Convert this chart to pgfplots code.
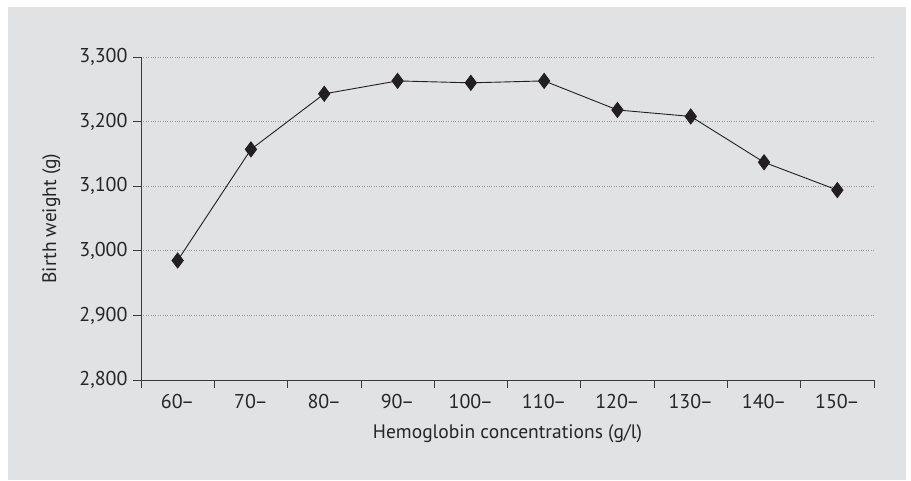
\documentclass[border=0pt]{standalone}
\usepackage{pgfplots}
\pgfplotsset{compat=1.18}
\usepackage{fontspec}
\setmainfont{PT Sans}
\definecolor{bg}{HTML}{E1E2E4}
\definecolor{ax}{HTML}{3A3A3A}
\definecolor{ln}{HTML}{231F20}
\newcommand{\dd}{\kern-1.5pt--}
\begin{document}
\begin{tikzpicture}[x=1pt,y=1pt]
\fill[white] (0,0) rectangle (911,480);
\fill[bg] (8,0) rectangle (906,473);
\begin{axis}[
  at={(141pt,100pt)}, anchor=south west,
  scale only axis, width=733pt, height=323pt,
  xmin=0.5, xmax=10.5, ymin=2800, ymax=3300,
  axis x line*=bottom, axis y line*=left,
  axis line style={ax, line width=0.9pt, -},
  xtick={1,...,10},
  xticklabels={60\dd,70\dd,80\dd,90\dd,100\dd,110\dd,120\dd,130\dd,140\dd,150\dd},
  major x tick style={draw=none},
  minor xtick={0.5,1.5,...,10.5},
  minor x tick style={ax, line width=0.8pt},
  minor tick length=8pt,
  ytick={2800,2900,...,3300},
  major y tick style={ax, line width=0.8pt},
  major tick length=8pt,
  tick align=outside,
  ymajorgrids,
  major grid style={gray!80, dotted, line width=0.8pt},
  /pgf/number format/1000 sep={,},
  /pgf/number format/assume math mode=true,
  tick label style={font=\fontsize{20}{24}\selectfont, text=black!85},
  label style={font=\fontsize{19.5}{23}\selectfont, text=black!85},
  xticklabel style={yshift=-3pt},
  yticklabel style={xshift=-2pt},
  xlabel={Hemoglobin concentrations (g/l)},
  ylabel={Birth weight (g)},
  xlabel style={yshift=-9pt},
  ylabel style={yshift=12pt},
  clip=false,
]
\addplot[ln, line width=0.9pt, mark=diamond*, mark size=7.5pt, mark options={fill=ln, draw=ln}]
coordinates {
(1,2985) (2,3157) (3,3243) (4,3263) (5,3260) (6,3263) (7,3218) (8,3208) (9,3137) (10,3094)
};
\end{axis}
\end{tikzpicture}
\end{document}
